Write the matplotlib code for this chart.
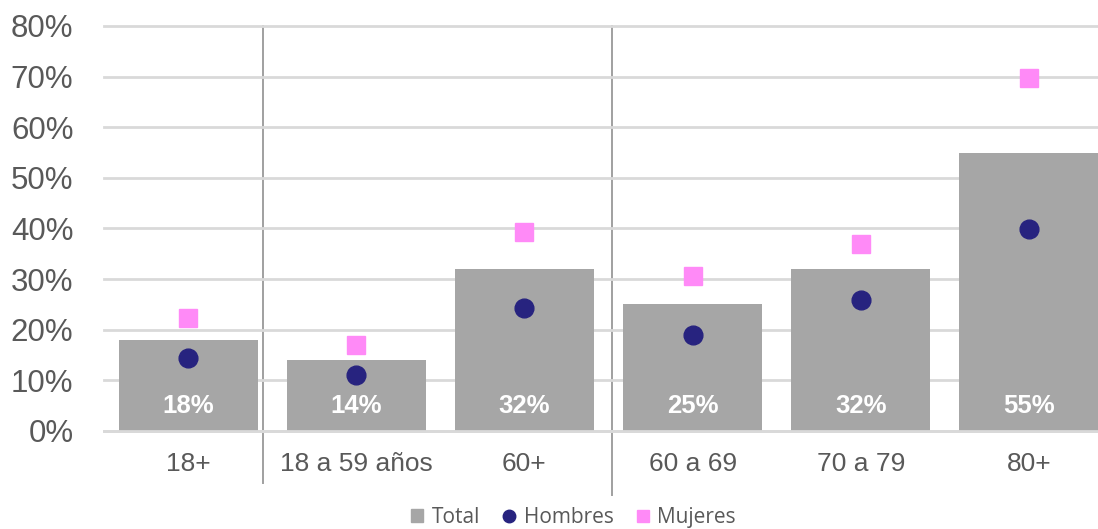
"""Prevalence by age group: total bars with men/women markers."""
import numpy as np
import matplotlib
matplotlib.use('Agg')
import matplotlib.pyplot as plt
from matplotlib.lines import Line2D
from matplotlib.patches import Patch

categories = ['18+', '18 a 59 años', '60+', '60 a 69', '70 a 79', '80+']
total = [0.18, 0.14, 0.32, 0.25, 0.32, 0.55]
hombres = [0.144, 0.111, 0.242, 0.190, 0.259, 0.399]
mujeres = [0.223, 0.170, 0.393, 0.307, 0.370, 0.698]
separators = [0.445, 2.52]
sep_bottom = [-0.103, -0.126]

BAR = '#a6a6a6'
NAVY = '#27237f'
PINK = '#ff8af7'
GRID = '#d9d9d9'
TXT = '#595959'

plt.rcParams['font.family'] = ['Liberation Sans', 'DejaVu Sans']

fig = plt.figure(figsize=(10.98, 5.29), dpi=100)
ax = fig.add_axes([0.0947, 0.1853, 0.919, 0.7656])

x = np.arange(len(categories))
ax.bar(x, total, width=0.826, color=BAR, zorder=2)
ax.plot(x, hombres, 'o', color=NAVY, markersize=13.5, zorder=3, clip_on=False)
ax.plot(x, mujeres, 's', color=PINK, markersize=13, zorder=3, clip_on=False)

for xi, v in zip(x, total):
    ax.text(xi, 0.049, f'{v * 100:.0f}%', ha='center', va='center',
            color='white', fontsize=18.5, fontweight='bold', zorder=4)

# group separators running below the axis
for sx, sb in zip(separators, sep_bottom):
    ax.plot([sx, sx], [0.8, sb], color='#a0a0a0', lw=1.4, clip_on=False, zorder=1)

ax.set_xlim(-0.5, 5.5)
ax.set_ylim(0, 0.8)
ax.set_yticks(np.arange(0, 0.81, 0.1))
ax.set_yticklabels([f'{int(round(t * 100))}%' for t in np.arange(0, 0.81, 0.1)])
ax.set_xticks(x)
ax.set_xticklabels(categories)
ax.tick_params(axis='y', length=0, pad=22, labelsize=22.5, labelcolor=TXT)
ax.tick_params(axis='x', length=0, pad=15, labelsize=19, labelcolor=TXT)

ax.grid(axis='y', color=GRID, lw=2, zorder=0)
for line in ax.get_ygridlines():
    line.set_clip_on(False)
for s in ['top', 'right', 'left']:
    ax.spines[s].set_visible(False)
ax.spines['bottom'].set_color(GRID)
ax.spines['bottom'].set_linewidth(2)

handles = [
    Patch(color=BAR, label='Total'),
    Line2D([], [], marker='o', ls='', color=NAVY, markersize=9, label='Hombres'),
    Line2D([], [], marker='s', ls='', color=PINK, markersize=9, label='Mujeres'),
]
fig.legend(handles=handles, loc='center', bbox_to_anchor=(0.522, 0.022), ncol=3,
           frameon=False, handlelength=0.6, handleheight=0.6, handletextpad=0.4,
           columnspacing=1.1, prop={'family': 'Open Sans', 'size': 15},
           labelcolor=TXT)

fig.savefig('out.png', dpi=100)
